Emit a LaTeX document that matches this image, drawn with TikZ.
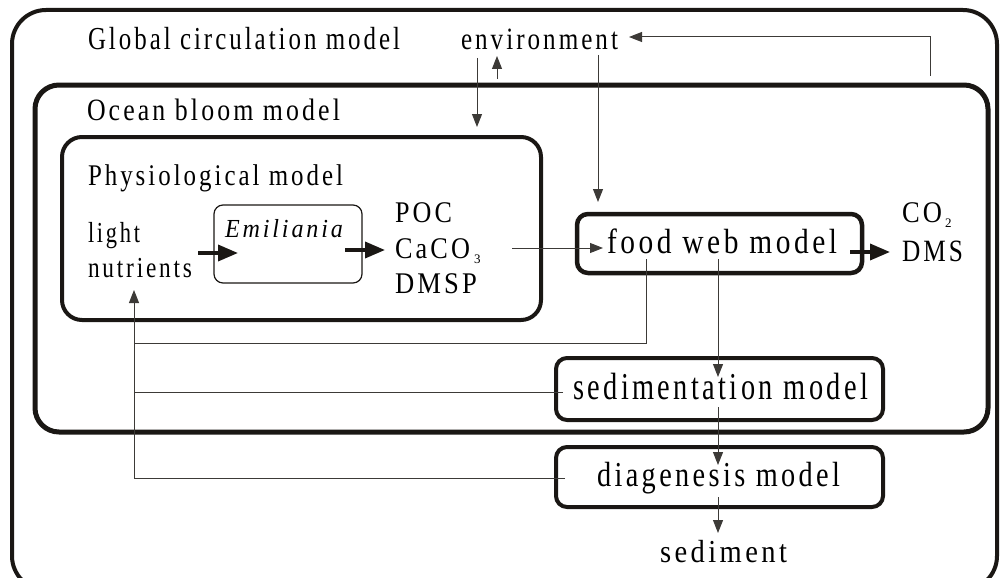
\documentclass[tikz,border=0pt]{standalone}
\usepackage{fontspec}
\setmainfont{Liberation Serif}[LetterSpace=12]
\usepackage{graphicx}
\usetikzlibrary{arrows.meta}
\newcommand{\tw}[3]{\resizebox{#1pt}{\height}{\fontsize{#2pt}{#2pt}\selectfont #3}}
\definecolor{ink}{HTML}{1A1714}
\tikzset{
  lbl/.style={inner sep=0pt, outer sep=0pt, anchor=base west},
  box/.style={draw=ink, rectangle, inner sep=0pt, outer sep=0pt},
  conn/.style={draw=ink!85, line width=1pt},
  tarrow/.style={conn, -{Triangle[length=13pt,width=10pt]}},
  thick arrow/.style={draw=ink, line width=3.5pt, -{Triangle[length=20pt,width=16pt]}}
}
\begin{document}
\begin{tikzpicture}[x=1pt,y=-1pt]
\clip (0,0) rectangle (1001,578);
% boxes
\node[box, line width=4pt, rounded corners=34pt, minimum width=985pt, minimum height=580pt] (gcmbox) at (504.5,300) {};
\node[box, line width=5pt, rounded corners=24pt, minimum width=953pt, minimum height=347pt] (ocean) at (511.5,258.5) {};
\node[box, line width=4pt, rounded corners=20pt, minimum width=479pt, minimum height=183pt] (phys) at (301.5,228.5) {};
\node[box, line width=1.2pt, rounded corners=9pt, minimum width=148pt, minimum height=78pt] (emil) at (288,244) {};
\node[box, line width=4.5pt, rounded corners=11pt, minimum width=285pt, minimum height=59pt] (food) at (719.5,243.5) {};
\node[box, line width=4pt, rounded corners=11pt, minimum width=327pt, minimum height=62pt] (sed) at (719.5,389) {};
\node[box, line width=4pt, rounded corners=11pt, minimum width=327pt, minimum height=60pt] (diag) at (719.5,477) {};
% texts
\node[lbl] (gcm) at (88,50) {\tw{312}{32}{Global circulation model}};
\node[lbl] (env) at (461,49) {\tw{157}{31}{environment}};
\node[lbl] (obm) at (87,120) {\tw{253}{31}{Ocean bloom model}};
\node[lbl] (phm) at (88,185) {\tw{255}{30}{Physiological model}};
\node[lbl] (light) at (88,242) {\tw{52}{29}{light}};
\node[lbl] (nutr) at (88,277) {\tw{104}{29}{nutrients}};
\node[lbl] (emt) at (225,237) {\tw{118}{26}{\itshape Emiliania}};
\node[lbl] (poc) at (395,222) {\tw{57}{30}{POC}};
\node[lbl] (caco) at (395,258) {\tw{75}{30}{CaCO}};
\node[lbl] (caco3) at (474,263) {\fontsize{13pt}{13pt}\selectfont 3};
\node[lbl] (dmsp) at (395,293) {\tw{82}{30}{DMSP}};
\node[lbl] (fwt) at (607,253) {\tw{230}{35}{food web model}};
\node[lbl] (co) at (902,222) {\tw{40}{30}{CO}};
\node[lbl] (co2) at (945,227) {\fontsize{13pt}{13pt}\selectfont 2};
\node[lbl] (dms) at (902,261) {\tw{61}{31}{DMS}};
\node[lbl] (sedt) at (573,399) {\tw{295}{38}{sedimentation model}};
\node[lbl] (diagt) at (597,486) {\tw{243}{35}{diagenesis model}};
\node[lbl] (sedim) at (660,562) {\tw{127}{32}{sediment}};
% connector end points
\coordinate (eA) at (477,58);   \coordinate (eAt) at (477,127);
\coordinate (uA) at (497,79);   \coordinate (uAt) at (497,56);
\coordinate (eB) at (598,55);   \coordinate (eBt) at (598,202);
\coordinate (rA) at (930,76);   \coordinate (rAt) at (629,37);
\coordinate (cA) at (512,248);  \coordinate (cAt) at (603,248);
\coordinate (fA) at (646,259);  \coordinate (fB) at (134,343);
\coordinate (nA) at (134,478);  \coordinate (nAt) at (134,290);
\coordinate (sA) at (563,392);  \coordinate (dA) at (565,478);
\coordinate (fC) at (718,259);  \coordinate (fCt) at (718,377);
\coordinate (sB) at (718,407);  \coordinate (sBt) at (718,465);
\coordinate (dB) at (718,497);  \coordinate (dBt) at (718,533);
\coordinate (lA) at (198,253);  \coordinate (lAt) at (238,253);
\coordinate (mA) at (345,250);  \coordinate (mAt) at (385,250);
\coordinate (oA) at (850,252);  \coordinate (oAt) at (890,252);
% connectors
\draw[tarrow] (eA) -- (eAt);
\draw[tarrow] (uA) -- (uAt);
\draw[tarrow] (eB) -- (eBt);
\draw[tarrow] (rA) |- (rAt);
\draw[tarrow] (cA) -- (cAt);
\draw[conn] (fA) |- (fB);
\draw[tarrow] (nA) -- (nAt);
\draw[conn] (sA) -- (sA -| nA);
\draw[conn] (dA) -- (nA);
\draw[tarrow] (fC) -- (fCt);
\draw[tarrow] (sB) -- (sBt);
\draw[tarrow] (dB) -- (dBt);
\draw[thick arrow] (lA) -- (lAt);
\draw[thick arrow] (mA) -- (mAt);
\draw[thick arrow] (oA) -- (oAt);
\end{tikzpicture}
\end{document}
